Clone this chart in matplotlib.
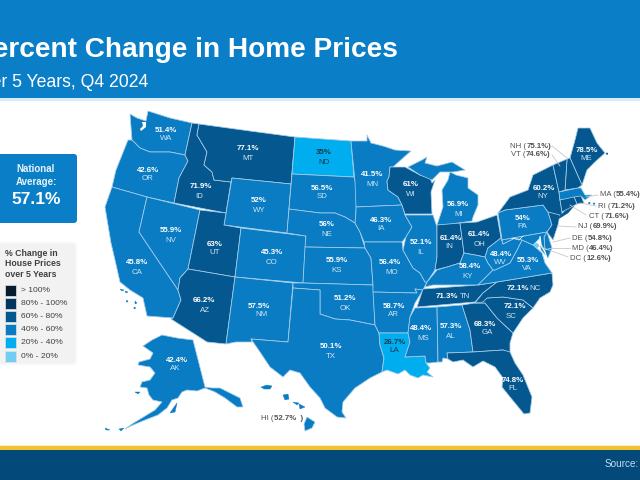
"""Percent change in home prices by state, slide style map"""
import matplotlib
matplotlib.use('Agg')
import matplotlib.pyplot as plt
from matplotlib.patches import Polygon, Rectangle, FancyBboxPatch

plt.rcParams['font.family'] = ['Liberation Sans', 'DejaVu Sans']

# values per state
STATES = ['WA', 'OR', 'CA', 'NV', 'ID', 'MT', 'WY', 'UT', 'CO', 'AZ', 'NM', 'ND', 'SD', 'NE', 'KS', 'OK', 'TX',
          'MN', 'IA', 'MO', 'AR', 'LA', 'WI', 'IL', 'MS', 'MI', 'IN', 'OH', 'KY', 'TN', 'AL', 'GA', 'FL', 'SC',
          'NC', 'VA', 'WV', 'PA', 'NY', 'ME', 'AK']
PCT = [51.4, 42.6, 45.8, 55.9, 71.9, 77.1, 52, 63, 45.3, 66.2, 57.5, 35, 56.5, 56, 55.9, 51.2, 50.1,
       41.5, 46.3, 56.4, 58.7, 26.7, 61, 52.1, 48.4, 56.9, 61.4, 61.4, 58.4, 71.3, 57.3, 68.3, 74.8, 72.1,
       72.1, 55.3, 48.4, 54, 60.2, 78.5, 42.4]

# small states, labelled outside the map
SIDE_STATES = ['NH', 'VT', 'MA', 'RI', 'CT', 'NJ', 'DE', 'MD', 'DC', 'HI']
SIDE_PCT = [75.1, 74.6, 55.4, 71.2, 71.6, 69.9, 54.8, 46.4, 12.6, 52.7]

NATIONAL = 57.1

LEGEND_LABELS = ['> 100%', '80% - 100%', '60% - 80%', '40% - 60%', '20% - 40%', '0% - 20%']
LEGEND_COLORS = ['#061c30', '#03355f', '#04578f', '#0a7cc4', '#00aeef', '#72cdf4']
BIN_EDGES = [100, 80, 60, 40, 20, 0]

# outlines, in pixels
SHAPES = {
    'WA': [(130, 114), (137, 118), (146, 121), (148, 111), (170, 118), (192, 123), (185, 155), (170, 152), (150, 152),
           (140, 148), (132, 140)],
    'OR': [(132, 140), (140, 148), (150, 152), (170, 152), (185, 155), (188, 161), (179, 178), (174, 203), (147, 197),
           (112, 187), (116, 170), (122, 155), (128, 140)],
    'CA': [(112, 187), (147, 197), (139, 232), (178, 290), (181, 300), (173, 318), (147, 316), (143, 298), (130, 290),
           (120, 282), (115, 260), (111, 243), (105, 207)],
    'NV': [(147, 197), (200, 210), (188, 269), (180, 278), (178, 290), (139, 232)],
    'ID': [(192, 123), (199, 124), (197, 135), (207, 152), (204, 165), (212, 172), (214, 180), (231, 182), (226, 213),
           (174, 203), (179, 178), (188, 161), (185, 155)],
    'MT': [(199, 124), (250, 131), (295, 137), (291, 184), (232, 178), (231, 182), (214, 180), (212, 172), (204, 165),
           (207, 152), (197, 135)],
    'WY': [(232, 178), (291, 184), (287, 233), (224, 225)],
    'UT': [(200, 210), (226, 213), (224, 225), (241, 228), (235, 277), (188, 269)],
    'CO': [(241, 228), (306, 236), (303, 283), (235, 277)],
    'AZ': [(188, 269), (235, 277), (226, 344), (207, 342), (171, 319), (173, 318), (181, 300), (178, 290), (180, 278)],
    'NM': [(235, 277), (293, 283), (288, 342), (251, 339), (252, 342), (236, 342), (226, 344)],
    'ND': [(295, 137), (351, 141), (354, 177), (292, 174)],
    'SD': [(292, 174), (354, 177), (357, 188), (356, 212), (355, 223), (345, 217), (335, 213), (320, 213), (289, 209)],
    'NE': [(289, 209), (320, 213), (335, 213), (345, 217), (355, 223), (360, 232), (365, 248), (305, 247), (306, 236),
           (287, 233)],
    'KS': [(305, 247), (365, 248), (368, 253), (371, 258), (373, 285), (303, 283)],
    'OK': [(293, 283), (303, 283), (373, 285), (375, 325), (360, 322), (350, 320), (335, 319), (320, 314), (320, 290),
           (293, 288)],
    'TX': [(293, 288), (320, 290), (320, 314), (335, 319), (350, 320), (360, 322), (375, 325), (379, 333), (380, 345),
           (384, 358), (382, 372), (370, 378), (355, 388), (343, 402), (342, 412), (346, 418), (337, 417), (325, 408),
           (320, 398), (310, 387), (300, 373), (290, 370), (283, 377), (270, 367), (260, 352), (251, 339), (288, 342)],
    'MN': [(351, 141), (367, 141), (367, 135), (371, 143), (383, 146), (395, 150), (411, 151), (403, 158), (393, 167),
           (390, 167), (389, 177), (387, 181), (388, 190), (398, 197), (402, 205), (356, 207), (355, 182)],
    'IA': [(356, 207), (402, 205), (405, 215), (412, 227), (406, 237), (402, 242), (364, 242), (360, 232), (355, 223),
           (356, 212)],
    'MO': [(364, 242), (402, 242), (403, 250), (413, 268), (420, 273), (425, 282), (427, 282), (423, 290), (415, 289),
           (417, 293), (373, 292), (373, 285), (371, 258), (368, 253), (365, 248)],
    'AR': [(373, 292), (417, 293), (415, 289), (423, 290), (415, 303), (410, 317), (408, 333), (379, 333), (375, 325)],
    'LA': [(379, 333), (408, 333), (410, 342), (405, 357), (425, 356), (426, 363), (430, 368), (427, 372), (433, 377),
           (423, 375), (418, 378), (410, 375), (405, 370), (398, 374), (387, 370), (382, 372), (384, 358), (380, 345)],
    'WI': [(390, 167), (405, 167), (420, 175), (430, 178), (432, 183), (435, 180), (431, 192), (432, 214), (405, 214),
           (402, 205), (398, 197), (388, 190), (387, 181), (389, 177)],
    'IL': [(405, 215), (433, 215), (437, 227), (437, 257), (435, 270), (427, 282), (425, 282), (420, 273), (413, 268),
           (403, 250), (406, 237), (412, 227)],
    'MS': [(415, 308), (437, 307), (438, 362), (430, 363), (426, 363), (425, 356), (405, 357), (410, 342), (408, 333),
           (410, 317)],
    'MI': [(450, 172), (456, 175), (468, 178), (468, 188), (478, 195), (478, 205), (473, 217), (472, 221), (445, 225),
           (437, 225), (443, 207), (442, 190), (448, 180)],
    'UP': [(408, 167), (422, 160), (427, 157), (425, 163), (437, 166), (452, 162), (465, 170), (453, 172), (440, 172),
           (432, 180), (420, 175)],
    'IN': [(437, 225), (460, 223), (464, 253), (460, 263), (447, 267), (435, 270), (437, 257), (437, 227)],
    'OH': [(460, 223), (477, 222), (497, 215), (501, 238), (488, 248), (485, 257), (475, 255), (464, 253)],
    'KY': [(425, 287), (427, 282), (437, 270), (447, 267), (460, 263), (464, 253), (475, 255), (485, 257), (488, 263),
           (493, 270), (478, 285), (433, 285)],
    'TN': [(423, 289), (478, 285), (497, 282), (483, 293), (475, 302), (463, 303), (417, 307)],
    'AL': [(437, 307), (462, 305), (470, 330), (473, 352), (447, 353), (448, 359), (443, 358), (442, 362), (438, 362)],
    'GA': [(462, 305), (475, 303), (485, 303), (497, 318), (513, 333), (510, 343), (510, 353), (503, 350), (473, 352),
           (470, 330)],
    'FL': [(447, 353), (473, 352), (503, 350), (510, 352), (515, 363), (523, 375), (532, 397), (530, 413), (524, 414),
           (510, 397), (502, 387), (503, 378), (495, 367), (483, 361), (473, 367), (463, 360), (453, 362), (448, 359)],
    'SC': [(475, 303), (483, 293), (487, 298), (503, 297), (510, 298), (523, 300), (533, 308), (523, 318), (513, 333),
           (497, 318), (485, 303)],
    'NC': [(497, 282), (552, 273), (553, 285), (550, 292), (540, 298), (533, 308), (523, 300), (510, 298), (503, 297),
           (487, 298), (483, 302), (475, 303), (483, 293)],
    'VA': [(478, 285), (493, 270), (495, 270), (510, 263), (517, 250), (522, 240), (533, 245), (542, 253), (545, 263),
           (552, 273), (497, 282)],
    'WV': [(485, 257), (488, 248), (501, 238), (503, 244), (515, 238), (523, 238), (522, 240), (517, 250), (510, 263),
           (495, 270), (493, 270), (488, 263)],
    'PA': [(498, 213), (505, 210), (543, 205), (548, 212), (552, 225), (547, 232), (502, 240)],
    'NY': [(505, 210), (498, 213), (510, 197), (528, 190), (533, 175), (553, 165), (559, 192), (560, 200), (562, 212),
           (562, 216), (556, 216), (548, 212), (543, 205)],
    'ME': [(570, 158), (575, 140), (578, 128), (590, 128), (597, 143), (605, 153), (595, 162), (587, 170), (582, 185)],
    'AK': [(143, 346), (152, 340), (162, 335), (177, 338), (193, 340), (205, 387), (212, 388), (220, 388), (240, 398),
           (243, 407), (237, 407), (225, 398), (215, 392), (205, 388), (197, 391), (187, 390), (182, 392), (178, 398),
           (172, 400), (167, 408), (158, 415), (145, 420), (133, 425), (125, 429), (132, 424), (155, 410), (162, 402),
           (153, 400), (149, 395), (147, 388), (140, 387), (142, 382), (150, 380), (155, 373), (150, 367), (138, 365),
           (139, 362), (150, 359), (153, 353)],
    'NH': [(567, 159), (570, 158), (582, 185), (578, 188), (565, 190)],
    'VT': [(553, 165), (567, 159), (565, 190), (559, 192)],
    'MA': [(559, 192), (578, 188), (581, 188), (585, 195), (592, 195), (585, 200), (582, 197), (560, 200)],
    'RI': [(574, 197), (581, 196), (584, 203), (577, 204)],
    'CT': [(560, 200), (574, 197), (577, 204), (562, 212)],
    'NJ': [(548, 212), (560, 215), (558, 225), (553, 240), (547, 232), (552, 225)],
    'DE': [(547, 232), (552, 248), (545, 250), (544, 237)],
    'MD': [(502, 240), (547, 232), (544, 237), (545, 250), (552, 248), (548, 258), (541, 250), (540, 238), (533, 245),
           (522, 240), (515, 238), (503, 244)],
    'HI': [(307, 417), (315, 422), (312, 428), (305, 431), (304, 424)],
}
# islands that take the colour of their state
ISLANDS = {
    'NY': [[(558, 218), (565, 211), (574, 206), (568, 213), (560, 218)]],
    'HI': [[(261, 387), (267, 385), (272, 386), (270, 389), (264, 389)],
           [(283, 395), (288, 394), (289, 399), (285, 400)],
           [(293, 402), (299, 403), (297, 405)],
           [(299, 404), (305, 407), (300, 409)]],
    'AK': [[(172, 410), (177, 403), (175, 412), (170, 413)], [(135, 392), (140, 392), (138, 394)],
           [(105, 428), (110, 430), (106, 430)], [(119, 429), (124, 428), (121, 431)]],
    'CA': [[(120, 289), (124, 290), (122, 291)], [(125, 291), (128, 292), (126, 293)], [(127, 300), (128, 302), (126, 302)],
           [(135, 301), (137, 303), (135, 304)], [(134, 307), (136, 308), (134, 309)]],
    'MA': [[(588, 203), (590, 202), (590, 204)], [(593, 203), (595, 203), (594, 205)]],
    'ME': [[(606, 153), (608, 153), (607, 155)]],
}

# where each state's value and name go
PCT_POS = {
    'WA': (166, 130), 'OR': (148, 170), 'CA': (137, 263), 'NV': (171, 230), 'ID': (201, 187), 'MT': (248, 149),
    'WY': (259, 201), 'UT': (215, 244), 'CO': (272, 253), 'AZ': (204, 301), 'NM': (259, 306), 'ND': (324, 153),
    'SD': (322, 188), 'NE': (327, 225), 'KS': (337, 261), 'OK': (345, 299), 'TX': (331, 347), 'MN': (372, 175),
    'IA': (381, 220), 'MO': (390, 263), 'AR': (394, 306), 'LA': (395, 342), 'WI': (411, 184), 'IL': (421, 243),
    'MS': (421, 329), 'MI': (458, 205), 'IN': (451, 238), 'OH': (479, 235), 'KY': (470, 267), 'TN': (447, 296),
    'AL': (451, 327), 'GA': (485, 325), 'FL': (513, 381), 'SC': (515, 307), 'NC': (518, 288), 'VA': (528, 260),
    'WV': (501, 255), 'PA': (523, 218), 'NY': (544, 188), 'ME': (587, 150), 'AK': (177, 360),
}
NAME_POS = {
    'WA': (166, 139), 'OR': (148, 179), 'CA': (137, 273), 'NV': (171, 240), 'ID': (199, 196), 'MT': (248, 158),
    'WY': (259, 210), 'UT': (215, 253), 'CO': (272, 262), 'AZ': (205, 310), 'NM': (261, 315), 'ND': (324, 162),
    'SD': (322, 197), 'NE': (327, 235), 'KS': (337, 271), 'OK': (345, 308), 'TX': (331, 356), 'MN': (372, 184),
    'IA': (381, 229), 'MO': (392, 272), 'AR': (393, 315), 'LA': (394, 351), 'WI': (411, 194), 'IL': (421, 252),
    'MS': (423, 338), 'MI': (459, 214), 'IN': (449, 247), 'OH': (479, 244), 'KY': (468, 277), 'TN': (465, 296),
    'AL': (451, 336), 'GA': (487, 333), 'FL': (513, 389), 'SC': (511, 317), 'NC': (535, 288), 'VA': (527, 269),
    'WV': (500, 263), 'PA': (522, 227), 'NY': (543, 197), 'ME': (586, 159), 'AK': (175, 369),
}
SIDE_POS = {
    'NH': (510, 146), 'VT': (511, 155), 'MA': (599.5, 195), 'RI': (598, 206), 'CT': (589, 217), 'NJ': (578, 227),
    'DE': (572, 238), 'MD': (572, 248), 'DC': (570, 259), 'HI': (261, 418),
}
LEADERS = [((552, 146), (567, 158)), ((552, 155), (560, 166)), ((598, 195), (586, 197)), ((596, 206), (580, 203)),
           ((586, 215), (570, 205)), ((576, 227), (558, 226)), ((570, 238), (553, 242)), ((570, 248), (552, 248)),
           ((568, 257), (538, 246))]


def bin_color(value):
    for edge, color in zip(BIN_EDGES, LEGEND_COLORS):
        if value > edge:
            return color
    return LEGEND_COLORS[-1]


fig = plt.figure(figsize=(6.4, 4.8), dpi=100, facecolor='white')
ax = fig.add_axes([0, 0, 1, 1])
ax.set_xlim(0, 640)
ax.set_ylim(480, 0)
ax.axis('off')

# header and footer
ax.add_patch(Rectangle((0, 0), 640, 98, fc='#0a7fc8', ec='none'))
ax.add_patch(Rectangle((0, 98), 640, 2.5, fc='#d9ebf7', ec='none'))
ax.add_patch(Rectangle((0, 445), 640, 1.5, fc='#f8eecb', ec='none'))
ax.add_patch(Rectangle((0, 446), 640, 4.5, fc='#f3c230', ec='none'))
ax.add_patch(Rectangle((0, 450), 640, 30, fc='#03497a', ec='none'))

# the slide is cropped, title and source run past the picture edge like in the original
ax.text(-26, 57, 'Percent Change in Home Prices', color='white', fontsize=20.2, fontweight='bold', va='baseline')
ax.text(-31, 87, 'Over 5 Years, Q4 2024', color='white', fontsize=12.7, va='baseline')
ax.text(605, 467, 'Source:', color='#c4dcec', fontsize=7.2, va='baseline')

# national average box
ax.add_patch(FancyBboxPatch((-10, 154), 87, 69, boxstyle='round,pad=0,rounding_size=3', fc='#0a7fc8', ec='none'))
ax.text(36, 169, 'National', color='#e6f2fa', fontsize=7, fontweight='bold', ha='center', va='center')
ax.text(36, 182, 'Average:', color='#e6f2fa', fontsize=7, fontweight='bold', ha='center', va='center')
ax.text(36, 200, f'{NATIONAL}%', color='white', fontsize=12.5, fontweight='bold', ha='center', va='center')

# legend panel
ax.add_patch(FancyBboxPatch((-10, 243), 86, 121, boxstyle='round,pad=0,rounding_size=3', fc='#f2f2f2', ec='#f7f7f7',
                            lw=1.5))
for i, line in enumerate(['% Change in', 'House Prices', 'over 5 Years']):
    ax.text(5, 253 + i * 10.8, line, color='#404040', fontsize=6.3, fontweight='bold', va='center')
for i, (label, color) in enumerate(zip(LEGEND_LABELS, LEGEND_COLORS)):
    y = 290 + i * 13.2
    ax.add_patch(Rectangle((5, y - 5.5), 11, 11, fc=color, ec='#e4e4e4', lw=0.5))
    ax.text(21, y, label, color='#404040', fontsize=6.1, va='center')

# states
colors = dict(zip(STATES, PCT))
colors.update(zip(SIDE_STATES, SIDE_PCT))
colors['UP'] = colors['MI']
for name, outline in SHAPES.items():
    ax.add_patch(Polygon(outline, closed=True, fc=bin_color(colors[name]), ec='#a5cde8', lw=0.55, joinstyle='round'))
for name, parts in ISLANDS.items():
    for part in parts:
        ax.add_patch(Polygon(part, closed=True, fc=bin_color(colors[name]), ec=bin_color(colors[name]), lw=0.3))

# water inside the outlines
ax.add_patch(Polygon([(142, 122), (146, 122), (146, 127), (141, 131), (140, 129), (143, 126)], closed=True, fc='white',
                     ec='none'))
ax.plot([540, 541, 545, 547], [237, 245, 252, 259], color='white', lw=1.0)
ax.plot([512, 519, 523], [238, 240, 236], color='white', lw=0.5)

# DC marker
ax.scatter([536], [245], s=12, color=bin_color(SIDE_PCT[SIDE_STATES.index('DC')]), zorder=4, linewidths=0)

for start, end in LEADERS:
    ax.plot([start[0], end[0]], [start[1], end[1]], color='#c8c8c8', lw=0.6, zorder=3)

# labels on the states
for name, value in zip(STATES, PCT):
    dark = name in ('ND', 'LA')
    ax.text(*PCT_POS[name], f'{value:g}%', color='#17384f' if dark else 'white', fontsize=5.7, fontweight='bold',
            ha='center', va='center', zorder=5)
    ax.text(*NAME_POS[name], name, color='#17384f' if dark else '#cfe4f3', fontsize=5.7, ha='center', va='center',
            zorder=5)

# labels beside the map, regular name then bold value
renderer = fig.canvas.get_renderer()
for name, value in zip(SIDE_STATES, SIDE_PCT):
    x, y = SIDE_POS[name]
    first = ax.text(x, y, f'{name} (', color='#505050', fontsize=5.6, va='center', zorder=5)
    box = first.get_window_extent(renderer)
    x2 = ax.transData.inverted().transform((box.x1, box.y0))[0] + 0.5
    tail = '%  )' if name == 'HI' else '%)'
    ax.text(x2, y, f'{value}{tail}', color='#505050', fontsize=5.6, fontweight='bold', va='center', zorder=5)

fig.savefig('out.png', dpi=100, facecolor='white')
plt.close(fig)
